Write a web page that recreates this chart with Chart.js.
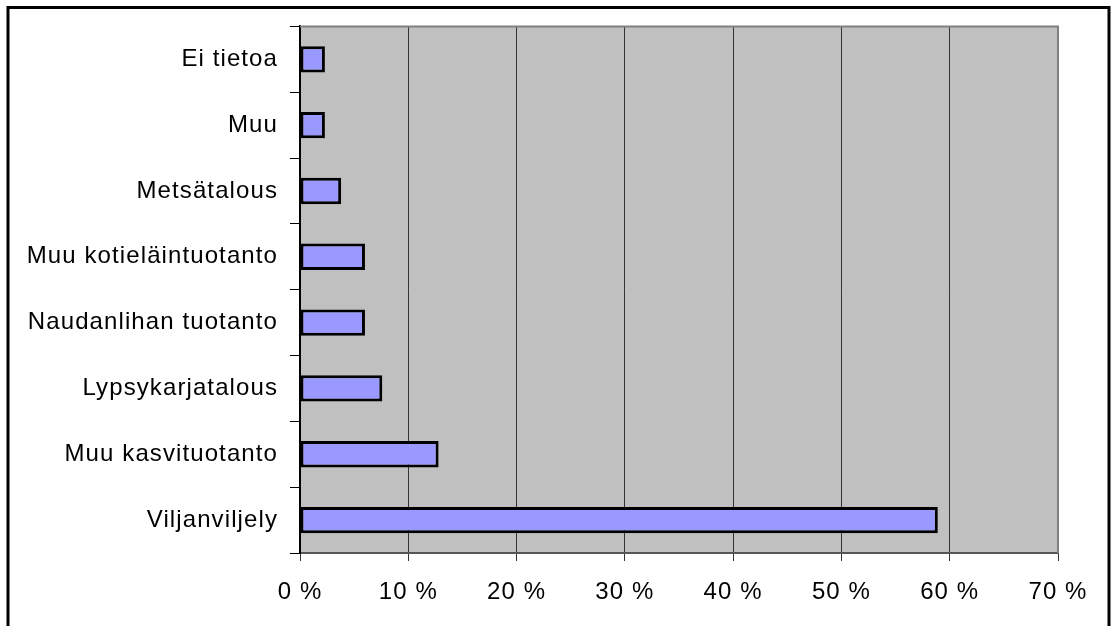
<!DOCTYPE html>
<html>
<head>
<meta charset="utf-8">
<script src="https://cdn.jsdelivr.net/npm/chart.js@4/dist/chart.umd.min.js"></script>
<style>
  html, body { margin: 0; padding: 0; background: #fff; }
  canvas { display: block; }
</style>
</head>
<body>
<canvas id="grafico" width="1111" height="626"></canvas>
<script>
// data
const categories = [
  "Ei tietoa",
  "Muu",
  "Metsätalous",
  "Muu kotieläintuotanto",
  "Naudanlihan tuotanto",
  "Lypsykarjatalous",
  "Muu kasvituotanto",
  "Viljanviljely"
];
const shares = [2.3, 2.3, 3.8, 6.0, 6.0, 7.6, 12.8, 58.9];
const xTicks = [0, 10, 20, 30, 40, 50, 60, 70];

const fontLabel = { family: "'Liberation Sans', Arial, sans-serif", size: 24 };

// gray plot area + frame round the chart
const plotBg = {
  id: "plotBg",
  beforeDraw(chart) {
    const { ctx, chartArea: a } = chart;
    ctx.letterSpacing = "1.1px";
    ctx.save();
    ctx.fillStyle = "#c0c0c0";
    ctx.fillRect(a.left, a.top, a.right - a.left, a.bottom - a.top);
    ctx.restore();
  },
  afterDraw(chart) {
    const { ctx, chartArea: a } = chart;
    ctx.save();
    ctx.strokeStyle = "#808080";
    ctx.lineWidth = 2;
    ctx.beginPath();
    ctx.moveTo(a.left, a.top);
    ctx.lineTo(a.right, a.top);
    ctx.lineTo(a.right, a.bottom);
    ctx.stroke();
    ctx.strokeStyle = "#000";
    ctx.lineWidth = 3;
    ctx.strokeRect(8, 7.5, 1101, 700);
    ctx.restore();
  }
};

const ctx = document.getElementById("grafico").getContext("2d");
new Chart(ctx, {
  type: "bar",
  data: {
    labels: categories,
    datasets: [{
      data: shares,
      backgroundColor: "#9999ff",
      borderColor: "#000",
      borderWidth: 3,
      borderSkipped: false,
      barPercentage: 0.4,
      categoryPercentage: 1
    }]
  },
  options: {
    indexAxis: "y",
    responsive: false,
    animation: false,
    layout: { padding: { top: 20, right: 53, left: 0, bottom: 0 } },
    plugins: { legend: { display: false }, tooltip: { enabled: false } },
    scales: {
      x: {
        min: 0,
        max: 70,
        afterFit(s) { s.height = 73; },
        afterBuildTicks(s) { s.ticks = xTicks.map(v => ({ value: v })); },
        ticks: {
          color: "#000",
          font: fontLabel,
          padding: 17,
          maxRotation: 0,
          callback: v => v + " %"
        },
        grid: { color: "#333", lineWidth: 1, tickLength: 8 },
        border: { color: "#555", width: 2 }
      },
      y: {
        afterFit(s) { s.width = 300; },
        ticks: { color: "#000", font: fontLabel, padding: 12 },
        grid: { drawOnChartArea: false, color: "#000", tickLength: 10, offset: true },
        border: { color: "#000", width: 2 }
      }
    }
  },
  plugins: [plotBg]
});
</script>
</body>
</html>
